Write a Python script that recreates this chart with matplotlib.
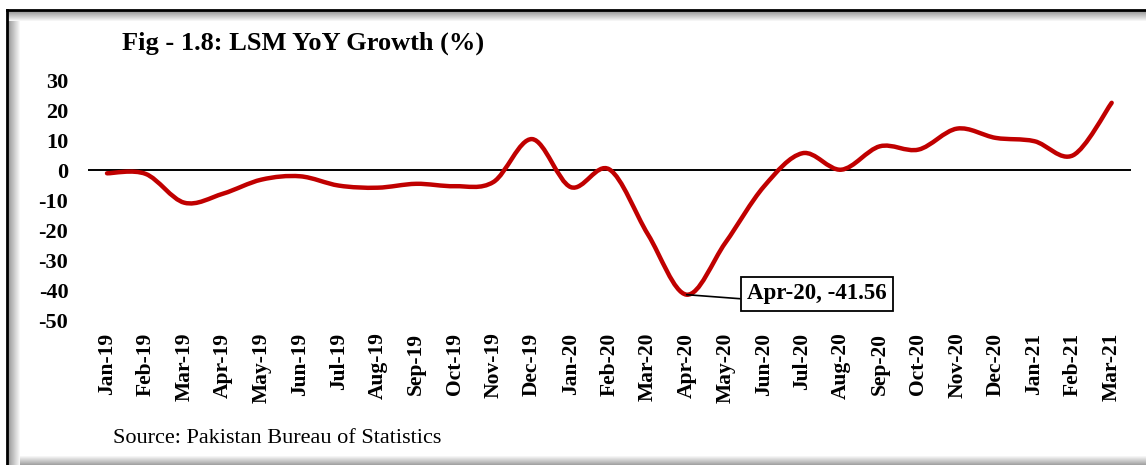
import numpy as np
import matplotlib
matplotlib.use("Agg")
import matplotlib.pyplot as plt
from matplotlib.path import Path
from matplotlib.patches import PathPatch, Rectangle

months = ["Jan-19", "Feb-19", "Mar-19", "Apr-19", "May-19", "Jun-19", "Jul-19",
          "Aug-19", "Sep-19", "Oct-19", "Nov-19", "Dec-19", "Jan-20", "Feb-20",
          "Mar-20", "Apr-20", "May-20", "Jun-20", "Jul-20", "Aug-20", "Sep-20",
          "Oct-20", "Nov-20", "Dec-20", "Jan-21", "Feb-21", "Mar-21"]
growth = [-1.1, -1.3, -10.9, -7.9, -3.2, -2.1, -5.2, -5.9, -4.6, -5.4, -4.0,
          10.3, -5.7, 0.2, -21.5, -41.56, -24.3, -5.5, 5.6, 0.1, 7.9, 6.8,
          13.8, 10.7, 9.6, 4.9, 22.4]
yticks = [30, 20, 10, 0, -10, -20, -30, -40, -50]
title = "Fig - 1.8: LSM YoY Growth (%)"
source = "Source: Pakistan Bureau of Statistics"
peak_idx = 15

W, H = 1146, 465
fig = plt.figure(figsize=(W / 100, H / 100), dpi=100)
fig.patch.set_facecolor("white")

# frame with soft shadow
bg = fig.add_axes([0, 0, 1, 1], zorder=-5)
bg.set_xlim(0, W)
bg.set_ylim(H, 0)
bg.axis("off")
for i in range(12):
    g = 0.6 + 0.4 * i / 12
    bg.add_patch(Rectangle((8 + i, 11), 1, H, color=(g, g, g), lw=0))
for i in range(10):
    g = 0.6 + 0.4 * i / 10
    bg.add_patch(Rectangle((8, 11 + i), W, 1, color=(g, g, g), lw=0))
for i in range(10):
    g = 1.0 - 0.4 * i / 10
    bg.add_patch(Rectangle((20, 455 + i), W, 1, color=(g, g, g), lw=0))
bg.plot([7, 7], [10, H], color="black", lw=2)
bg.plot([7, W], [10, 10], color="black", lw=2)

serif = ["Liberation Serif", "DejaVu Serif"]

ax = fig.add_axes([87.7 / W, 1 - 320 / H, (1131 - 87.7) / W, 240 / H])
ax.set_xlim(-0.5, len(months) - 0.5)
ax.set_ylim(-50, 30)
for s in ax.spines.values():
    s.set_visible(False)
ax.axhline(0, color="black", lw=1.4, zorder=1)

# smooth line (Bezier through data points)
x = np.arange(len(growth), dtype=float)
y = np.array(growth, dtype=float)
pts = np.column_stack([x, y])
verts = [pts[0]]
codes = [Path.MOVETO]
n = len(pts)
for i in range(n - 1):
    p0 = pts[i - 1] if i > 0 else pts[i]
    p1 = pts[i]
    p2 = pts[i + 1]
    p3 = pts[i + 2] if i + 2 < n else pts[i + 1]
    c1 = p1 + (p2 - p0) / 6.0
    c2 = p2 - (p3 - p1) / 6.0
    verts += [c1, c2, p2]
    codes += [Path.CURVE4] * 3
ax.add_patch(PathPatch(Path(verts, codes), facecolor="none", edgecolor="#C00000",
                       lw=3.2, capstyle="round", joinstyle="round", zorder=3))

ax.set_xticks(x)
ax.set_xticklabels(months, rotation=90, fontsize=15.5, fontweight="bold", family=serif)
ax.set_yticks(yticks)
ax.set_yticklabels([str(v) for v in yticks], fontsize=16, fontweight="bold", family=serif)
ax.tick_params(axis="both", length=0)
ax.tick_params(axis="x", pad=9)
ax.tick_params(axis="y", pad=14)

ax.annotate(f"{months[peak_idx]}, {growth[peak_idx]:.2f}",
            xy=(peak_idx, growth[peak_idx]), xycoords="data",
            xytext=(747 / W, 1 - 294 / H), textcoords="figure fraction",
            ha="left", va="center", fontsize=16.5, fontweight="bold", family=serif,
            bbox=dict(boxstyle="square,pad=0.28", fc="white", ec="black", lw=1.3),
            arrowprops=dict(arrowstyle="-", color="black", lw=1.2, shrinkA=0, shrinkB=0,
                            relpos=(0, 0.25)),
            zorder=5)

fig.text(122 / W, 1 - 43 / H, title, fontsize=19, fontweight="bold", family=serif,
         ha="left", va="center")
fig.text(113 / W, 1 - 438 / H, source, fontsize=16, family=serif,
         ha="left", va="center")

fig.savefig("out.png", dpi=100)
